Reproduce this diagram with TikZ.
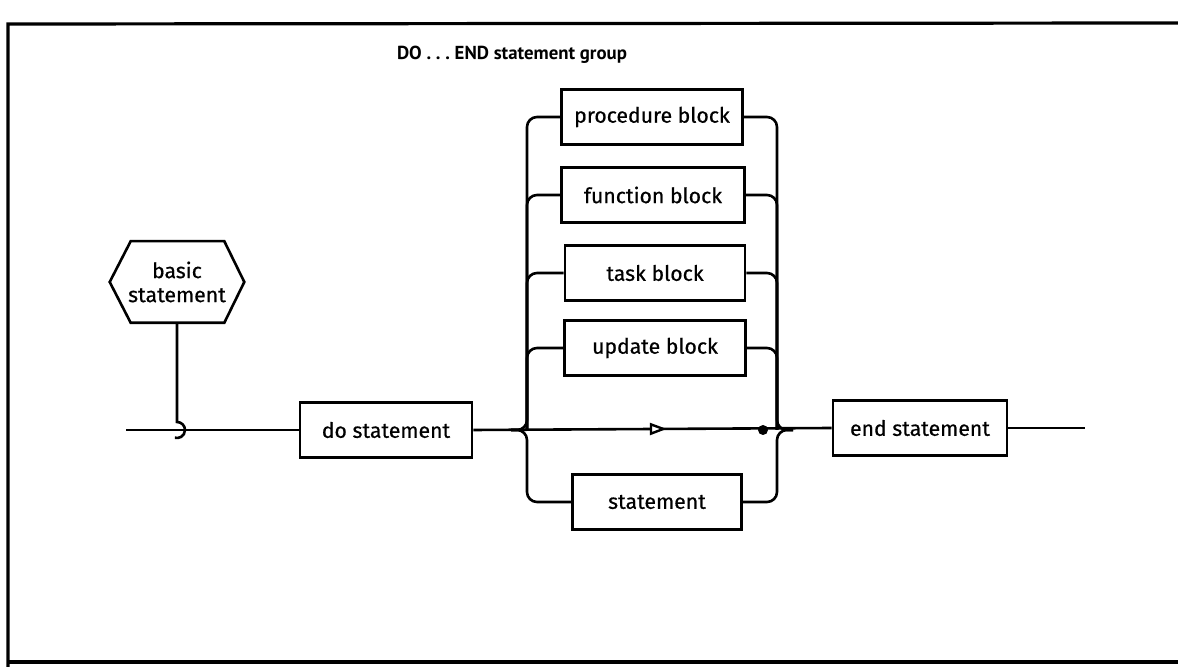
\documentclass[tikz,border=0pt]{standalone}
\usepackage{fontspec}
\setmainfont{Fira Sans}[FakeBold=0.6]
\newfontfamily\ttlfont{PT Sans}
\usetikzlibrary{arrows.meta,decorations.markings}
\begin{document}
\begin{tikzpicture}[x=0.5pt,y=-0.5pt, line width=1.3pt,
  lbl/.style={font=\fontsize{10.6}{12}\selectfont},
  box/.style={draw, lbl, line width=1.3pt, minimum height=27.5pt, inner sep=0pt},
  rail/.style={line width=1.3pt, rounded corners=5pt},
  frame/.style={line width=1.6pt},
  arrowmark/.style={postaction={decorate}, decoration={markings,
     mark=at position 0.54 with {\arrow{Triangle[open,fill=white,length=8.5pt,width=6pt,line width=1.2pt]}}}}
  ]
\useasboundingbox (0,0) rectangle (1178,667);
% frame
\draw[frame] (1178,23) -- (8,24) -- (8,667);
\draw[frame] (8,662) -- (1178,662);
% title
\node[font=\ttlfont\fontsize{9.4}{12}\selectfont\bfseries] (title) at (512,55) {DO\ .\ .\ .\ END statement group};
% boxes
\node[box, minimum width=86pt]   (do)   at (386,430) {do statement};
\node[box, minimum width=90.5pt] (proc) at (652,117) {procedure block};
\node[box, minimum width=91.5pt] (fn)   at (653,195) {function block};
\node[box, minimum width=90pt]   (task) at (655,273) {task block};
\node[box, minimum width=90.5pt] (upd)  at (655,348) {update block};
\node[box, minimum width=84.5pt] (stmt) at (657,502) {statement};
\node[box, minimum width=87pt]   (end)  at (920,428) {end statement};
% hexagon
\node[lbl, minimum width=66pt, minimum height=39.5pt, inner sep=0pt, align=center] (basic) at (177,282) {basic\\statement};
\draw (basic.west) -- ([xshift=10.5pt]basic.north west) -- ([xshift=-10pt]basic.north east)
      -- (basic.east) -- ([xshift=-10pt]basic.south east) -- ([xshift=10.5pt]basic.south west) -- cycle;
% coordinates
\coordinate (start)  at (126,430);
\coordinate (finish) at (1085,428);
\coordinate (hoptop) at (177,422);
\coordinate (L)  at (527,430);
\coordinate (Lw) at (511,430);
\coordinate (R)  at (777,430);
\coordinate (Re) at (793,430);
\node[circle, fill, inner sep=0pt, minimum size=5pt] (dot) at (763,430) {};
% main line
\draw (start) -- (do.west);
\draw[arrowmark] (do.east) -- (end.west);
\draw (end.east) -- (finish);
% hop from basic statement
\draw (basic.south) -- (hoptop) arc[start angle=90, end angle=-105, radius=4pt];
% left rails
\draw[rail] (proc.west) -- (proc.west -| L) -- (L) -- (Lw);
\draw[rail] (stmt.west) -- (stmt.west -| L) -- (L) -- (Lw);
\draw[rail] (fn.west) -- (fn.west -| L) -- (L);
\draw[rail] (task.west) -- (task.west -| L) -- (L);
\draw[rail] (upd.west) -- (upd.west -| L) -- (L);
% right rails
\draw[rail] (proc.east) -- (proc.east -| R) -- (R) -- (Re);
\draw[rail] (stmt.east) -- (stmt.east -| R) -- (R) -- (Re);
\draw[rail] (fn.east) -- (fn.east -| R) -- (R);
\draw[rail] (task.east) -- (task.east -| R) -- (R);
\draw[rail] (upd.east) -- (upd.east -| R) -- (R);
\end{tikzpicture}
\end{document}
